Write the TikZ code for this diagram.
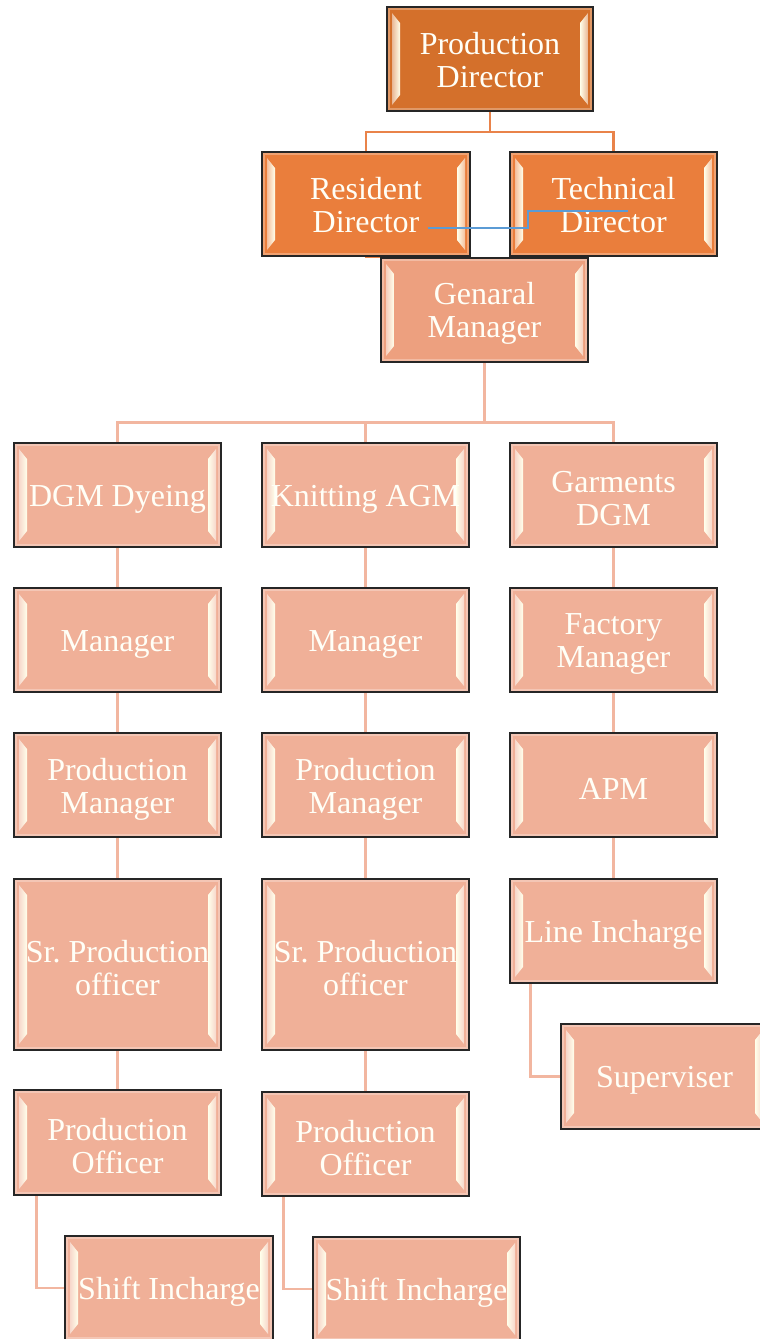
\documentclass[tikz,border=0pt]{standalone}
\usepackage{fontspec}
\setmainfont{Liberation Serif}
\usetikzlibrary{backgrounds,calc}
\frenchspacing

\definecolor{pdcol}{HTML}{D4702B}
\definecolor{dircol}{HTML}{EA7E3C}
\definecolor{gmcol}{HTML}{EDA07F}
\definecolor{lowcol}{HTML}{F0B098}
\definecolor{topline}{HTML}{E9834A}
\definecolor{lowline}{HTML}{F2B6A0}
\definecolor{blueline}{HTML}{5B9BD5}

\tikzset{
  orgbox/.style={draw=black!85, line width=1.3pt, fill=#1, inner sep=0pt,
    path picture={
      % soft rim just inside the border
      \draw[#1!72!white, line width=2.5pt]
        let \p1=(path picture bounding box.south west),
            \p2=(path picture bounding box.north east) in
        (\x1+2pt,\y1+2pt) rectangle (\x2-2pt,\y2-2pt);
      % left bevel highlight
      \shade[left color=#1!50!white, right color=white!92!yellow]
        let \p1=(path picture bounding box.south west),
            \p2=(path picture bounding box.north east) in
        (\x1+5pt,\y1+6pt) -- (\x1+5pt,\y2-6pt) -- (\x1+13pt,\y2-16pt)
        -- (\x1+13pt,\y1+16pt) -- cycle;
      % right bevel highlight
      \shade[left color=white!92!yellow, right color=#1!50!white]
        let \p1=(path picture bounding box.south west),
            \p2=(path picture bounding box.north east) in
        (\x2-5pt,\y1+6pt) -- (\x2-5pt,\y2-6pt) -- (\x2-13pt,\y2-16pt)
        -- (\x2-13pt,\y1+16pt) -- cycle;
    }},
  orgtext/.style={text=white!97!yellow, align=center, inner sep=0pt,
    font=\fontsize{32}{33}\selectfont},
  upper/.style={draw=topline, line width=2.2pt},
  lower/.style={draw=lowline, line width=2.6pt},
}

% \orgnode{name}{left}{top}{right}{bottom}{colour}{text offset}{text}
\newcommand\orgnode[8]{%
  \node[orgbox=#6, minimum width={(#4-#2)*1pt}, minimum height={(#5-#3)*1pt}]
    (#1) at ({(#2+#4)/2},{(#3+#5)/2}) {};
  \node[orgtext] (#1-t) at ([yshift=-#7pt]#1.center) {#8};}

\begin{document}
\begin{tikzpicture}[x=1pt, y=-1pt]
\useasboundingbox (0,0) rectangle (760,1339);

% top management
\orgnode{pd}{387}{7}{593}{111}{pdcol}{1}{Production\\Director}
\orgnode{res}{262}{152}{470}{256}{dircol}{1}{Resident\\Director}
\orgnode{tech}{510}{152}{717}{256}{dircol}{1}{Technical\\Director}
\orgnode{gm}{381}{258}{588}{362}{gmcol}{3}{Genaral\\Manager}

% dyeing column
\orgnode{d1}{14}{443}{221}{547}{lowcol}{4}{DGM Dyeing}
\orgnode{d2}{14}{588}{221}{692}{lowcol}{4}{Manager}
\orgnode{d3}{14}{733}{221}{837}{lowcol}{4}{Production\\Manager}
\orgnode{d4}{14}{879}{221}{1050}{lowcol}{4}{Sr. Production\\officer}
\orgnode{d5}{14}{1090}{221}{1195}{lowcol}{4}{Production\\Officer}
\orgnode{d6}{65}{1236}{273}{1340}{lowcol}{4}{Shift Incharge}

% knitting column
\orgnode{k1}{262}{443}{469}{547}{lowcol}{4}{Knitting AGM}
\orgnode{k2}{262}{588}{469}{692}{lowcol}{4}{Manager}
\orgnode{k3}{262}{733}{469}{837}{lowcol}{4}{Production\\Manager}
\orgnode{k4}{262}{879}{469}{1050}{lowcol}{4}{Sr. Production\\officer}
\orgnode{k5}{262}{1092}{469}{1196}{lowcol}{4}{Production\\Officer}
\orgnode{k6}{313}{1237}{520}{1341}{lowcol}{4}{Shift Incharge}

% garments column
\orgnode{g1}{510}{443}{717}{547}{lowcol}{4}{Garments\\DGM}
\orgnode{g2}{510}{588}{717}{692}{lowcol}{4}{Factory\\Manager}
\orgnode{g3}{510}{733}{717}{837}{lowcol}{4}{APM}
\orgnode{g4}{510}{879}{717}{983}{lowcol}{4}{Line Incharge}
\orgnode{g5}{561}{1024}{768}{1129}{lowcol}{4}{Superviser}

\begin{scope}[on background layer]
  \draw[upper] (pd.south) -- ++(0,20.5) -| (res.north);
  \draw[upper] (pd.south) -- ++(0,20.5) -| (tech.north);
  \draw[upper, line width=1.5pt] (res.south) -- ++(0,1) -| (gm.north);

  \draw[lower] (gm.south) |- ([yshift=20pt]d1.north) -- (d1.north);
  \draw[lower] (gm.south) |- ([yshift=20pt]k1.north) -- (k1.north);
  \draw[lower] (gm.south) |- ([yshift=20pt]g1.north) -- (g1.north);

  \draw[lower] (d1) -- (d2) (d2) -- (d3) (d3) -- (d4) (d4) -- (d5);
  \draw[lower] (k1) -- (k2) (k2) -- (k3) (k3) -- (k4) (k4) -- (k5);
  \draw[lower] (g1) -- (g2) (g2) -- (g3) (g3) -- (g4);

  \draw[lower] ([xshift=23pt]d5.south west) |- (d6.west);
  \draw[lower] ([xshift=22pt]k5.south west) |- (k6.west);
  \draw[lower] ([xshift=21pt]g4.south west) |- (g5.west);
\end{scope}

% link between the two directors
\coordinate (b1) at (428,228);
\coordinate (b2) at (628,211);
\draw[blueline, line width=2pt] (b1) -- (528,228) |- (b2);

\end{tikzpicture}
\end{document}
